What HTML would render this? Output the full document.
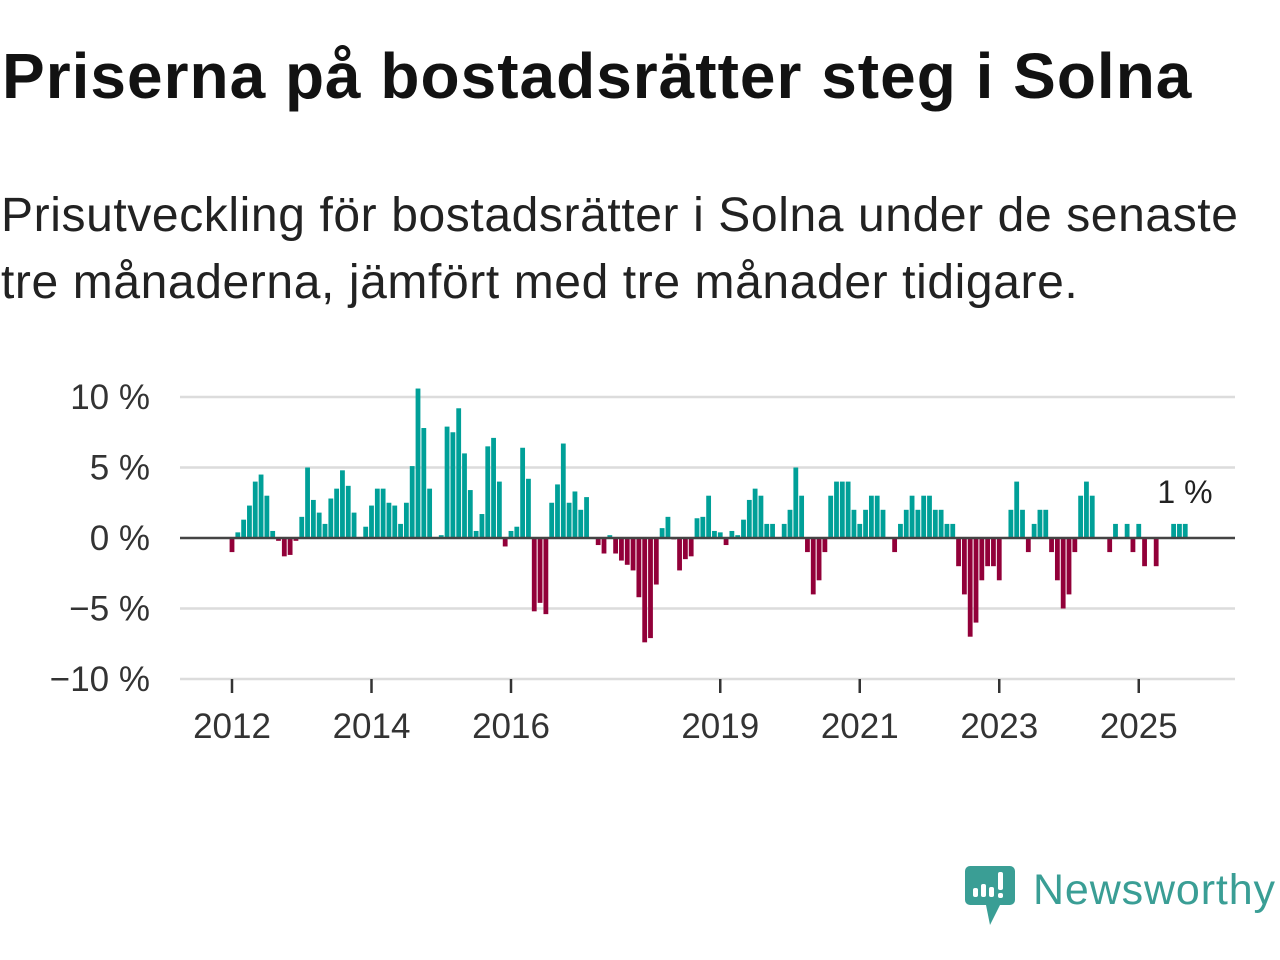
<!DOCTYPE html>
<html><head><meta charset="utf-8">
<style>
body{margin:0;width:1280px;height:960px;background:#fff;overflow:hidden;font-family:"Liberation Sans","DejaVu Sans",sans-serif;color:#111}
#title{position:absolute;left:2px;top:39px;font-size:64px;font-weight:bold;letter-spacing:1px;white-space:nowrap;color:#121212}
#sub{position:absolute;left:1px;top:182px;font-size:48px;line-height:67px;letter-spacing:0.6px;color:#222;width:1262px}
svg{position:absolute;left:0;top:0}
</style></head><body>
<div id="title">Priserna på bostadsrätter steg i Solna</div>
<div id="sub">Prisutveckling för bostadsrätter i Solna under de senaste tre månaderna, jämfört med tre månader tidigare.</div>
<svg id="chart" width="1280" height="960"></svg>
<script>
const values=[-1,0.4,1.3,2.3,4,4.5,3,0.5,-0.2,-1.3,-1.2,-0.2,1.5,5,2.7,1.8,1,2.8,3.5,4.8,3.7,1.8,0,0.8,2.3,3.5,3.5,2.5,2.3,1,2.5,5.1,10.6,7.8,3.5,0,0.2,7.9,7.5,9.2,6,3.4,0.5,1.7,6.5,7.1,4,-0.6,0.5,0.8,6.4,4.2,-5.2,-4.6,-5.4,2.5,3.8,6.7,2.5,3.3,2,2.9,0,-0.5,-1.1,0.2,-1.1,-1.6,-1.9,-2.3,-4.2,-7.4,-7.1,-3.3,0.7,1.5,-0.1,-2.3,-1.5,-1.3,1.4,1.5,3,0.5,0.4,-0.5,0.5,0.2,1.3,2.7,3.5,3,1,1,0,1,2,5,3,-1,-4,-3,-1,3,4,4,4,2,1,2,3,3,2,0,-1,1,2,3,2,3,3,2,2,1,1,-2,-4,-7,-6,-3,-2,-2,-3,0,2,4,2,-1,1,2,2,-1,-3,-5,-4,-1,3,4,3,0,0,-1,1,0,1,-1,1,-2,0,-2,0,0,1,1,1];
const startYear=2012;
const yTicks=[10,5,0,-5,-10];
const yTickLabels=["10 %","5 %","0 %","\u22125 %","\u221210 %"];
const xTickYears=[2012,2014,2016,2019,2021,2023,2025];
const lastLabel="1 %";
const svg=document.getElementById('chart');
const NS='http://www.w3.org/2000/svg';
const x0=232, pxYear=69.75, y0=538, pxPct=14.1;
const xs=i=>x0+i*pxYear/12;
const xYear=yr=>x0+(yr-startYear)*pxYear;
const ys=v=>y0-v*pxPct;
function mk(t,a){const e=document.createElementNS(NS,t);for(const k in a)e.setAttribute(k,a[k]);svg.appendChild(e);return e;}
yTicks.forEach((t,k)=>{
  if(t!==0){const g=mk('line',{x1:180,x2:1235,y1:ys(t),y2:ys(t),stroke:'#dcdcdc','stroke-width':2.5});
  
  }
  const l=mk('text',{x:150,y:ys(t)+12,'text-anchor':'end','font-size':35,fill:'#333'});
  l.textContent=yTickLabels[k];
  
  
});
values.forEach((v,i)=>{
  if(v===0)return;
  const top=v>0?ys(v):y0, h=Math.abs(v)*pxPct;
  const r=mk('rect',{x:xs(i)-2.4,y:top,width:4.8,height:h,fill:v>0?'#00a098':'#920039'});
  
  
});
const zl=mk('line',{x1:180,x2:1235,y1:y0,y2:y0,stroke:'#444','stroke-width':2.5});


xTickYears.forEach(yr=>{
  const x=xYear(yr);
  const t=mk('line',{x1:x,x2:x,y1:679,y2:693,stroke:'#333','stroke-width':2.5});
  
  
  const l=mk('text',{x:x,y:738,'text-anchor':'middle','font-size':35,fill:'#333'});
  l.textContent=String(yr);
  
  
});
const ll=mk('text',{x:1185,y:503,'text-anchor':'middle','font-size':32,fill:'#222'});
ll.textContent=lastLabel;


</script>
<svg width="1280" height="960" style="pointer-events:none">
<path d="M970 866 H1010 a5 5 0 0 1 5 5 V900 a5 5 0 0 1 -5 5 H1000 L990 925 L986 905 H970 a5 5 0 0 1 -5 -5 V871 a5 5 0 0 1 5 -5Z" fill="#3a9e95"/>
<rect x="973" y="888" width="5" height="9" rx="2" fill="#fff"/>
<rect x="981" y="884" width="5" height="13" rx="2" fill="#fff"/>
<rect x="989" y="887" width="5" height="10" rx="2" fill="#fff"/>
<rect x="998" y="872" width="5" height="18" rx="2" fill="#fff"/>
<rect x="998" y="893" width="5" height="5" rx="2" fill="#fff"/>
<text x="1033" y="904" font-size="43" fill="#3a9e95" font-family="Liberation Sans, sans-serif" textLength="242">Newsworthy</text>
</svg>
</body></html>
